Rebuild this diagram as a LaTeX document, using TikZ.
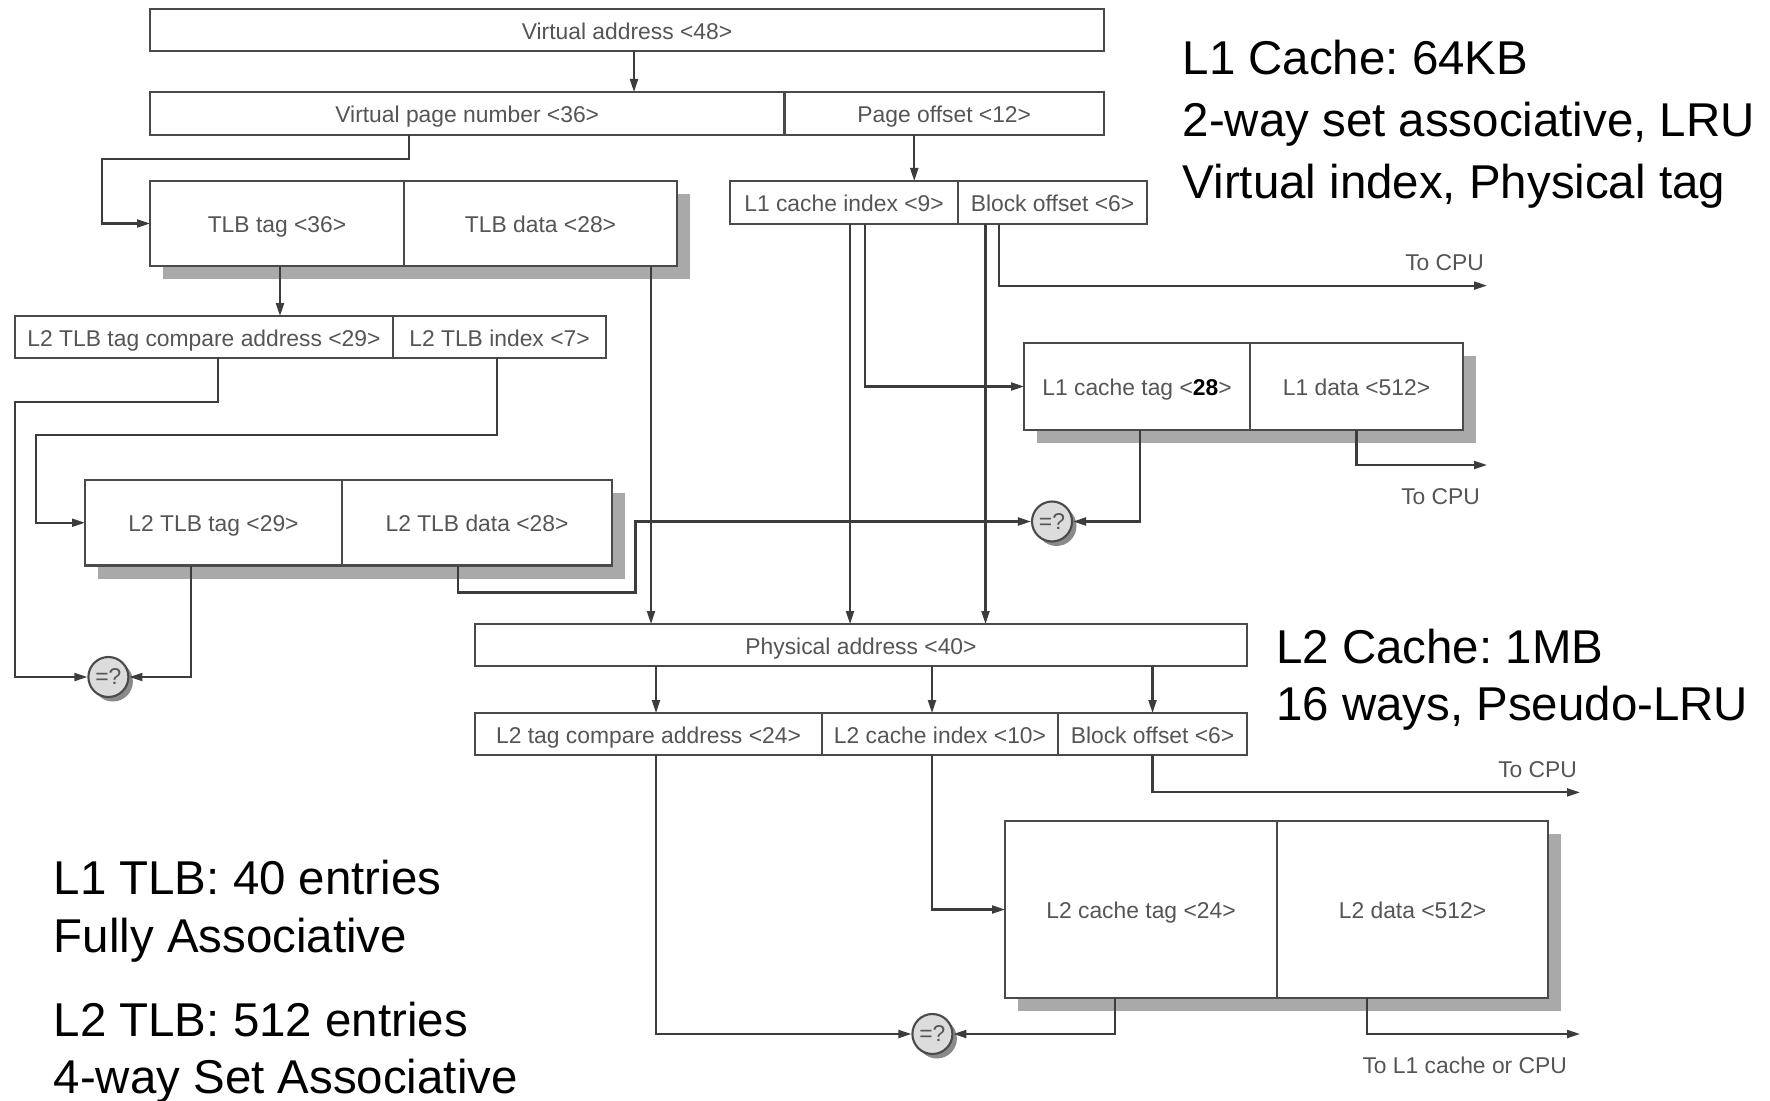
\documentclass[tikz,border=0pt]{standalone}
\usepackage{fontspec}
\usepackage{tikz}
\usetikzlibrary{positioning, arrows.meta, shadows}

\newfontfamily\diagfont{Liberation Sans}
\newcommand{\lblfont}{\diagfont\fontsize{6.5}{7.8}\selectfont}
\frenchspacing

\definecolor{linegray}{HTML}{4A4A4A}
\definecolor{wiregray}{HTML}{3C3C3C}
\definecolor{textgray}{HTML}{555555}
\definecolor{shadowgray}{HTML}{A9A9A9}
\definecolor{circfill}{HTML}{DCDCDC}
\definecolor{circshadow}{HTML}{8A8A8A}

\begin{document}
\begin{tikzpicture}[
  field/.style={draw=linegray, fill=white, line width=0.6pt, anchor=north west,
    inner sep=0pt, outer sep=0pt, text=textgray, font=\lblfont,
    text height=0.72em, text depth=0.2em},
  shadowed/.style={drop shadow={shadow xshift=1.3mm, shadow yshift=-1.3mm,
    fill=shadowgray, opacity=1}},
  cmp/.style={circle, draw=linegray, fill=circfill, line width=0.6pt,
    minimum size=4mm, inner sep=0pt, text=textgray, font=\lblfont,
    drop shadow={shadow xshift=0.45mm, shadow yshift=-0.45mm, fill=circshadow, opacity=1}},
  wire/.style={draw=wiregray, line width=0.6pt},
  arr/.style={wire, -{Triangle[length=1.3mm, width=0.8mm]}},
  outabove/.style={anchor=south east, inner sep=0pt, yshift=1.4mm, xshift=-0.2mm,
    text=textgray, font=\lblfont},
  outbelow/.style={anchor=north east, inner sep=0pt, yshift=-2.2mm, xshift=-0.6mm,
    text=textgray, font=\lblfont},
  infotext/.style={anchor=north west, inner sep=0pt, align=left,
    font=\diagfont\fontsize{13.5}{#1}\selectfont}
]
\useasboundingbox (0,0) rectangle (17.7,-11);

% Virtual address fields
\node[field, minimum width=9.54cm, minimum height=0.42cm] (va) at (1.50,-0.09) {Virtual address <48>};
\node[field, minimum width=6.345cm, minimum height=0.43cm] (vpn) at (1.50,-0.92) {Virtual page number <36>};
\node[field, minimum width=3.195cm, minimum height=0.43cm] (po) at (vpn.north east) {Page offset <12>};

% L1 TLB
\node[field, shadowed, minimum width=2.54cm, minimum height=0.85cm] (tlbtag) at (1.50,-1.81) {TLB tag <36>};
\node[field, shadowed, minimum width=2.73cm, minimum height=0.85cm] (tlbdata) at (tlbtag.north east) {TLB data <28>};

% L1 cache index fields
\node[field, minimum width=2.28cm, minimum height=0.43cm] (l1idx) at (7.30,-1.81) {L1 cache index <9>};
\node[field, minimum width=1.89cm, minimum height=0.43cm] (l1boff) at (l1idx.north east) {Block offset <6>};

% L2 TLB
\node[field, minimum width=3.78cm, minimum height=0.42cm] (l2tlbcmp) at (0.15,-3.16) {L2 TLB tag compare address <29>};
\node[field, minimum width=2.13cm, minimum height=0.42cm] (l2tlbidx) at (l2tlbcmp.north east) {L2 TLB index <7>};
\node[field, shadowed, minimum width=2.57cm, minimum height=0.855cm] (l2tlbtag) at (0.85,-4.80) {L2 TLB tag <29>};
\node[field, shadowed, minimum width=2.70cm, minimum height=0.855cm] (l2tlbdata) at (l2tlbtag.north east) {L2 TLB data <28>};

% L1 cache
\node[field, shadowed, minimum width=2.26cm, minimum height=0.87cm] (l1tag) at (10.24,-3.43) {L1 cache tag <\textcolor{black}{\bfseries 28}>};
\node[field, shadowed, minimum width=2.13cm, minimum height=0.87cm] (l1data) at (l1tag.north east) {L1 data <512>};

% Physical address and L2 fields
\node[field, minimum width=7.72cm, minimum height=0.42cm] (pa) at (4.75,-6.24) {Physical address <40>};
\node[field, minimum width=3.47cm, minimum height=0.42cm] (l2cmp) at (4.75,-7.13) {L2 tag compare address <24>};
\node[field, minimum width=2.36cm, minimum height=0.42cm] (l2idx) at (l2cmp.north east) {L2 cache index <10>};
\node[field, minimum width=1.89cm, minimum height=0.42cm] (l2boff) at (l2idx.north east) {Block offset <6>};

% L2 cache
\node[field, shadowed, minimum width=2.72cm, minimum height=1.77cm] (l2tag) at (10.05,-8.21) {L2 cache tag <24>};
\node[field, shadowed, minimum width=2.71cm, minimum height=1.77cm] (l2data) at (l2tag.north east) {L2 data <512>};

% Comparators
\node[cmp] (c1) at (1.084,-6.77) {=?};
\node[cmp] (c2) at (10.52,-5.215) {=?};
\node[cmp] (c3) at (9.324,-10.34) {=?};

% Outputs
\coordinate (cpuA) at (14.87,-2.856);
\coordinate (cpuB) at (14.87,-4.65);
\coordinate (cpuC) at (15.80,-7.924);
\coordinate (cpuD) at (15.80,-10.34);

% Virtual address to TLB and L1 index
\draw[arr] ([xshift=0.7mm]va.south) -- ([xshift=0.7mm]va.south |- vpn.north);
\draw[arr] ([xshift=-5.85mm]vpn.south) -- ++(0,-0.24) -| ([xshift=-4.84mm]tlbtag.west) -- (tlbtag.west);
\draw[arr] ([xshift=-3mm]po.south) -- ([xshift=-3mm]po.south |- l1idx.north);

% TLB lookups
\draw[arr] ([xshift=0.3mm]tlbtag.south) -- ([xshift=0.3mm]tlbtag.south |- l2tlbcmp.north);
\draw[arr] ([xshift=11.05mm]tlbdata.south) -- ([xshift=11.05mm]tlbdata.south |- pa.north);
\draw[arr] ([xshift=1.4mm]l2tlbcmp.south) -- ++(0,-0.44) -| (l2tlbcmp.west |- c1) -- (c1.west);
\draw[arr] ([xshift=-0.25mm]l2tlbidx.south) -- ++(0,-0.766) -| ([xshift=-4.9mm]l2tlbtag.west) -- (l2tlbtag.west);
\draw[arr] ([xshift=-2.25mm]l2tlbtag.south) |- (c1.east);
\draw[arr] ([xshift=-1.9mm]l2tlbdata.south) -- ++(0,-0.27) -- ++(1.775,0) |- (c2.west);

% L1 cache
\draw[arr] ([xshift=0.6mm]l1idx.south) -- ([xshift=0.6mm]l1idx.south |- pa.north);
\draw[arr] ([xshift=2.1mm]l1idx.south) |- (l1tag.west);
\draw[arr] ([xshift=-6.7mm]l1boff.south) -- ([xshift=-6.7mm]l1boff.south |- pa.north);
\draw[arr] ([xshift=-5.35mm]l1boff.south) |- (cpuA) node[outabove] {To CPU};
\draw[arr] ([xshift=0.3mm]l1tag.south) |- (c2.east);
\draw[arr] (l1data.south) |- (cpuB) node[outbelow] {To CPU};

% Physical address to L2
\foreach \fld/\dx in {l2cmp/0.75mm, l2idx/-0.8mm, l2boff/0mm}
  \draw[arr] ([xshift=\dx]\fld.north |- pa.south) -- ([xshift=\dx]\fld.north);
\draw[arr] (l2boff.south) |- (cpuC) node[outabove] {To CPU};
\draw[arr] ([xshift=-0.8mm]l2idx.south) |- (l2tag.west);
\draw[arr] ([xshift=0.75mm]l2cmp.south) |- (c3.west);
\draw[arr] ([xshift=-2.6mm]l2tag.south) |- (c3.east);
\draw[arr] ([xshift=-4.55mm]l2data.south) |- (cpuD) node[outbelow, xshift=-0.6mm] {To L1 cache or CPU};

% Notes
\node[infotext=17.6pt] (l1note) at (11.82,-0.395) {L1 Cache: 64KB\\2-way set associative, LRU\\Virtual index, Physical tag};
\node[infotext=16.4pt] (l2note) at (12.755,-6.28) {L2 Cache: 1MB\\16 ways, Pseudo-LRU};
\node[infotext=16.6pt] (tlbnote1) at (0.53,-8.595) {L1 TLB: 40 entries\\Fully Associative};
\node[infotext=16.2pt] (tlbnote2) at (0.53,-10.015) {L2 TLB: 512 entries\\4-way Set Associative};

\end{tikzpicture}
\end{document}
